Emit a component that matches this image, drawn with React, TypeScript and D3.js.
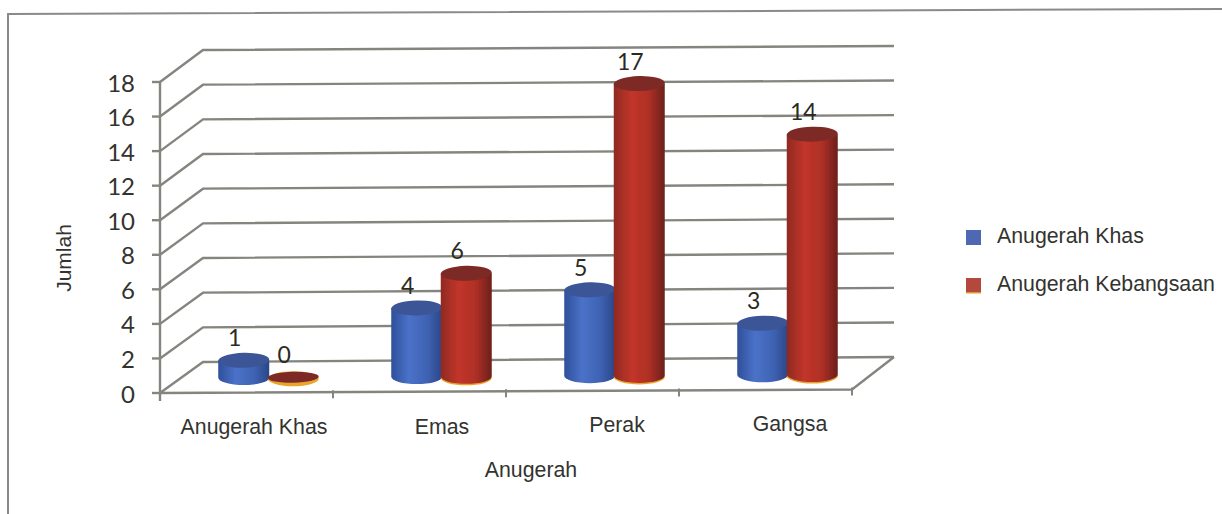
import React from "react";
import * as d3 from "d3";

const categories = ["Anugerah Khas", "Emas", "Perak", "Gangsa"];
const seriesNames = ["Anugerah Khas", "Anugerah Kebangsaan"];
const khasValues = [1, 4, 5, 3];
const kebangsaanValues = [0, 6, 17, 14];
const yTicks = [0, 2, 4, 6, 8, 10, 12, 14, 16, 18];
const xTitle = "Anugerah";
const yTitle = "Jumlah";

const W = 1222, H = 514;
const FRONT_L = 160, FRONT_R = 852, WALL_L = 203, WALL_R = 894;
const catLabelPos = [254, 442, 617, 790];
const catLabelY = [427, 427, 425, 424];

const x0 = d3.scaleBand<string>().domain(categories).range([FRONT_L, FRONT_R]);
const x1 = d3.scaleBand<string>().domain(seriesNames).range([59, 158]);
const frontY = d3.scaleLinear().domain([0, 18]).range([393, 82]);
const wallYL = d3.scaleLinear().domain([0, 18]).range([362, 50]);
const wallYR = d3.scaleLinear().domain([0, 18]).range([357, 46]);
const barH = d3.scaleLinear().domain([0, 18]).range([0, 309]);
const baseY = d3.scaleLinear().domain([245, 810]).range([377.5, 374.5]);

const GRID = "#858580";
const TEXT = "#333330";
const BODY = "'Liberation Sans', Arial, sans-serif";
const NUM = "Lato, 'Open Sans', sans-serif";
const RX = 25.5, RY = 7.5, TILT = -1.5;

function Cylinder({ cx, value, name }: { cx: number; value: number; name: string }) {
  const isBlue = name === seriesNames[0];
  const by = baseY(cx);
  const ty = by - barH(value);
  const body = `M${cx - RX},${ty} L${cx - RX},${by} A${RX},${RY} 0 0 0 ${cx + RX},${by} L${cx + RX},${ty} Z`;
  return (
    <g>
      {!isBlue && <ellipse cx={cx} cy={by + 1.5} rx={RX} ry={RY} fill="#e8a52c" />}
      {value > 0 && <path d={body} fill={isBlue ? "url(#blueBody)" : "url(#redBody)"} />}
      <ellipse
        cx={cx}
        cy={ty}
        rx={RX}
        ry={value > 0 ? RY : 5.5}
        transform={`rotate(${TILT} ${cx} ${ty})`}
        fill={isBlue ? "#3a5596" : "#7d2a26"}
      />
    </g>
  );
}

export default function App() {
  const bars = categories.flatMap((c, i) =>
    seriesNames.map((s, j) => {
      const cx = (x0(c) as number) + (x1(s) as number) + x1.bandwidth() / 2;
      const value = (j === 0 ? khasValues : kebangsaanValues)[i];
      return { key: `${c}-${s}`, cx, value, name: s };
    })
  );
  return (
    <svg
      width={W}
      height={H}
      viewBox={`0 0 ${W} ${H}`}
      style={{ position: "absolute", left: 0, top: 0, background: "#fff" }}
    >
      <defs>
        <linearGradient id="blueBody" x1="0" x2="1" y1="0" y2="0">
          <stop offset="0" stopColor="#2f4f9a" />
          <stop offset="0.35" stopColor="#4a72c8" />
          <stop offset="0.7" stopColor="#3f63b4" />
          <stop offset="1" stopColor="#2a4688" />
        </linearGradient>
        <linearGradient id="redBody" x1="0" x2="1" y1="0" y2="0">
          <stop offset="0" stopColor="#8f2a22" />
          <stop offset="0.35" stopColor="#c2352a" />
          <stop offset="0.7" stopColor="#ad2f25" />
          <stop offset="1" stopColor="#6b201c" />
        </linearGradient>
        <filter id="soft" x="-2%" y="-2%" width="104%" height="104%">
          <feGaussianBlur stdDeviation="0.55" />
        </filter>
      </defs>

      <g filter="url(#soft)">
        {/* outer frame */}
        <path d={`M8,${H} L8,14 L${W},9`} fill="none" stroke="#8a8a8a" strokeWidth={2} />

        {/* gridlines */}
        {yTicks.map((t) => (
          <path
            key={t}
            d={`M${FRONT_L},${frontY(t)} L${WALL_L},${wallYL(t)} L${WALL_R},${wallYR(t)}`}
            fill="none"
            stroke={GRID}
            strokeWidth={2.4}
          />
        ))}
        {/* floor */}
        <path
          d={`M${FRONT_L},${frontY(0)} L${FRONT_R},389.5 L${WALL_R},${wallYR(0)}`}
          fill="none"
          stroke={GRID}
          strokeWidth={2.4}
        />
        {/* value axis */}
        <line x1={FRONT_L} x2={FRONT_L} y1={frontY(18)} y2={frontY(0) + 8} stroke={GRID} strokeWidth={2.4} />
        {yTicks.map((t) => (
          <line key={t} x1={FRONT_L - 8} x2={FRONT_L} y1={frontY(t)} y2={frontY(t)} stroke={GRID} strokeWidth={2.4} />
        ))}
        {/* category ticks */}
        {categories.map((c) => {
          const x = (x0(c) as number) + x0.bandwidth();
          return <line key={c} x1={x} x2={x} y1={391 - (x - FRONT_L) * 0.005} y2={399 - (x - FRONT_L) * 0.005} stroke={GRID} strokeWidth={2} />;
        })}

        {bars.map((b) => (
          <Cylinder key={b.key} cx={b.cx} value={b.value} name={b.name} />
        ))}

        {/* legend swatches */}
        <rect x={966} y={230} width={15} height={15} fill="#4f68b4" />
        <rect x={966} y={278} width={15} height={14} fill="#b3483c" />
        <rect x={966} y={292} width={15} height={1.5} fill="#d99a3a" />
      </g>

      {/* value labels */}
      <g fontFamily={NUM} fontSize={23} fill="#2b2a20" textAnchor="middle">
        {bars.map((b) => (
          <text key={b.key} x={b.cx - 9} y={baseY(b.cx) - barH(b.value) - 23} dominantBaseline="central">
            {b.value}
          </text>
        ))}
      </g>

      {/* y tick labels */}
      <g fontFamily={NUM} fontSize={24} fill={TEXT} textAnchor="end">
        {yTicks.map((t) => (
          <text key={t} x={135} y={frontY(t)} dominantBaseline="central">
            {t}
          </text>
        ))}
      </g>

      {/* category labels */}
      <g fontFamily={BODY} fontSize={21.3} fill={TEXT} textAnchor="middle">
        {categories.map((c, i) => (
          <text key={c} x={catLabelPos[i]} y={catLabelY[i]} dominantBaseline="central">
            {c}
          </text>
        ))}
      </g>

      <text x={531} y={470} fontFamily={BODY} fontSize={21.3} fill={TEXT} textAnchor="middle" dominantBaseline="central">
        {xTitle}
      </text>
      <text
        transform="translate(63,258) rotate(-90)"
        fontFamily={BODY}
        fontSize={21}
        fill={TEXT}
        textAnchor="middle"
        dominantBaseline="central"
      >
        {yTitle}
      </text>

      {/* legend labels */}
      <g fontFamily={BODY} fontSize={21.3} fill={TEXT} dominantBaseline="central">
        {seriesNames.map((s, i) => (
          <text key={s} x={997} y={236 + i * 48}>
            {s}
          </text>
        ))}
      </g>
    </svg>
  );
}
